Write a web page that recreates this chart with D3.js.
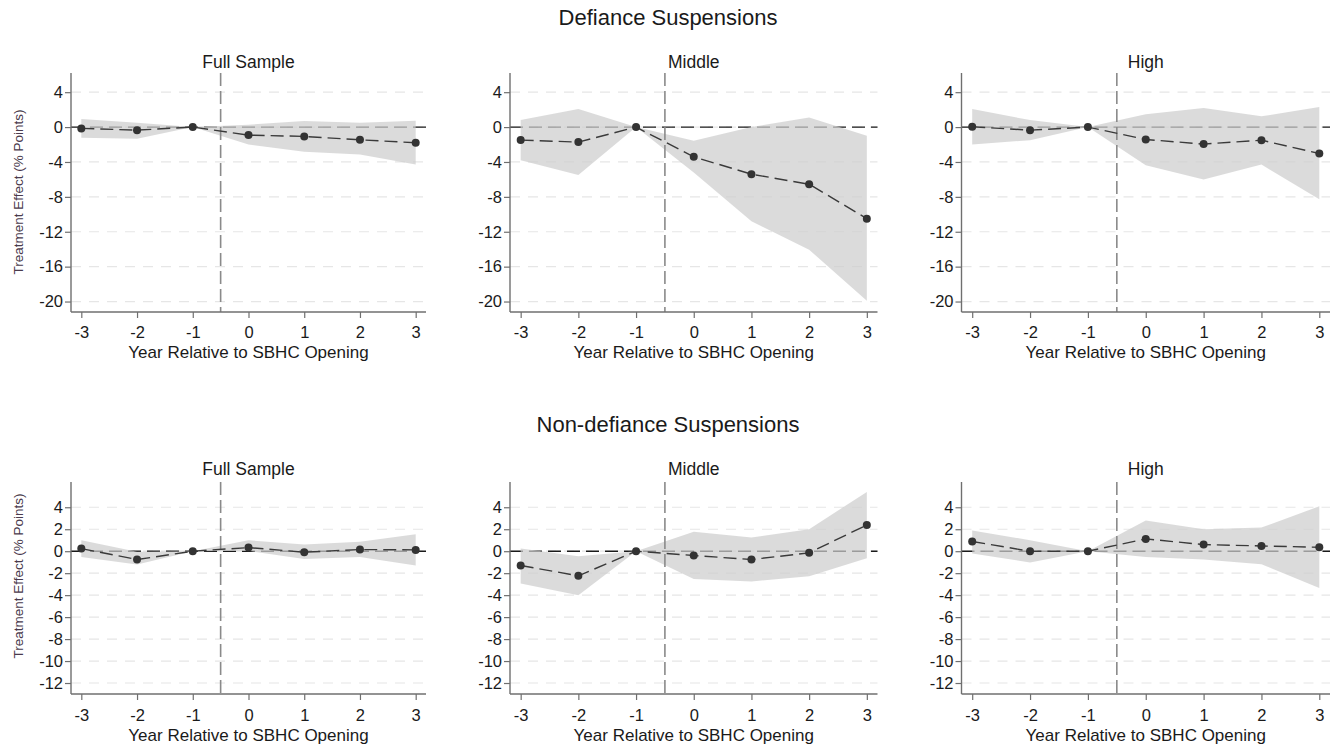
<!DOCTYPE html>
<html>
<head>
<meta charset="utf-8">
<script src="https://cdn.jsdelivr.net/npm/d3@7"></script>
<style>
  html, body { margin: 0; padding: 0; background: #fff; }
  svg { display: block; font-family: "Liberation Sans", Arial, sans-serif; }
</style>
</head>
<body>
<svg id="chart" width="1343" height="746"></svg>
<script>
// ---------------- DATA ----------------
const years = [-3, -2, -1, 0, 1, 2, 3];
const xTicks = [-3, -2, -1, 0, 1, 2, 3];
const panelTitles = ["Full Sample", "Middle", "High"];
const rowTitles = ["Defiance Suspensions", "Non-defiance Suspensions"];
const yAxisTitle = "Treatment Effect (% Points)";
const xAxisTitle = "Year Relative to SBHC Opening";
const yTicksTop = [4, 0, -4, -8, -12, -16, -20];
const yTicksBottom = [4, 2, 0, -2, -4, -6, -8, -10, -12];
const treatmentStart = -0.5;

// Defiance suspensions
const defFullEst = [-0.15, -0.35, 0, -0.92, -1.07, -1.46, -1.8];
const defFullLo  = [-1.23, -1.34, 0, -2.0, -2.84, -3.14, -4.3];
const defFullHi  = [0.92, 0.5, 0, 0.27, 0.69, 0.5, 0.73];

const defMidEst = [-1.49, -1.72, 0, -3.41, -5.4, -6.55, -10.5];
const defMidLo  = [-3.8, -5.5, 0, -5.2, -10.8, -14.06, -19.9];
const defMidHi  = [0.8, 2.07, 0, -1.57, 0.0, 1.1, -1.0];

const defHighEst = [0.04, -0.35, 0, -1.42, -1.95, -1.5, -3.03];
const defHighLo  = [-2.0, -1.5, 0, -4.37, -6.0, -4.3, -8.28];
const defHighHi  = [2.07, 0.8, 0, 1.46, 2.18, 1.23, 2.3];

// Non-defiance suspensions
const nonFullEst = [0.24, -0.76, 0, 0.33, -0.09, 0.15, 0.12];
const nonFullLo  = [-0.52, -1.21, 0, 0.03, -0.7, -0.52, -1.3];
const nonFullHi  = [1.0, -0.05, 0, 1.0, 0.6, 0.85, 1.55];

const nonMidEst = [-1.3, -2.24, 0, -0.39, -0.76, -0.15, 2.39];
const nonMidLo  = [-2.94, -4.0, 0, -2.52, -2.76, -2.27, -0.64];
const nonMidHi  = [0.24, -0.45, 0, 1.76, 1.24, 2.0, 5.4];

const nonHighEst = [0.88, 0.0, 0, 1.12, 0.6, 0.48, 0.36];
const nonHighLo  = [-0.2, -1.03, 0, -0.52, -0.76, -1.18, -3.36];
const nonHighHi  = [1.88, 1.0, 0, 2.79, 2.0, 2.15, 4.09];

// ---------------- LAYOUT ----------------
const svg = d3.select("#chart");
const colX = [[71, 426], [510, 877.5], [961.5, 1330]];
const rows = [
  { top: 73, bottom: 312, domain: [-21.2, 6.2], ticks: yTicksTop, title: rowTitles[0], titleY: 25, subY: 68, tickY: 338, axisTitleY: 358, yTitleCY: 192,
    panels: [[defFullEst, defFullLo, defFullHi], [defMidEst, defMidLo, defMidHi], [defHighEst, defHighLo, defHighHi]] },
  { top: 482, bottom: 694, domain: [-13.0, 6.3], ticks: yTicksBottom, title: rowTitles[1], titleY: 432, subY: 475, tickY: 721, axisTitleY: 741, yTitleCY: 576,
    panels: [[nonFullEst, nonFullLo, nonFullHi], [nonMidEst, nonMidLo, nonMidHi], [nonHighEst, nonHighLo, nonHighHi]] }
];

const textColor = "#1a1a1a";
const axisColor = "#6f6f6f";
const fmt = d => String(d);  // plain hyphen-minus like the original

rows.forEach((row, ri) => {
  svg.append("text")
    .attr("x", 668).attr("y", row.titleY)
    .attr("text-anchor", "middle")
    .attr("font-size", 22)
    .attr("fill", textColor)
    .text(row.title);

  row.panels.forEach((series, ci) => {
    const [est, lo, hi] = series;
    const x = d3.scaleLinear().domain([-3.185, 3.185]).range(colX[ci]);
    const y = d3.scaleLinear().domain(row.domain).range([row.bottom, row.top]);
    const g = svg.append("g");

    // gridlines
    g.selectAll(".grid").data(row.ticks).join("line")
      .attr("x1", colX[ci][0]).attr("x2", colX[ci][1])
      .attr("y1", d => y(d)).attr("y2", d => y(d))
      .attr("stroke", "#e6e6e6").attr("stroke-width", 1.2)
      .attr("stroke-dasharray", "10,8");

    // zero line
    g.append("line")
      .attr("x1", colX[ci][0]).attr("x2", colX[ci][1])
      .attr("y1", y(0)).attr("y2", y(0))
      .attr("stroke", "#1a1a1a").attr("stroke-width", 1.4)
      .attr("stroke-dasharray", "13,6");

    // CI band
    const area = d3.area()
      .x((d, i) => x(years[i]))
      .y0((d, i) => y(lo[i]))
      .y1((d, i) => y(hi[i]));
    g.append("path")
      .datum(years)
      .attr("d", area)
      .attr("fill", "rgb(205,205,205)")
      .attr("fill-opacity", 0.72);

    // vertical treatment line
    g.append("line")
      .attr("x1", x(treatmentStart)).attr("x2", x(treatmentStart))
      .attr("y1", row.top).attr("y2", row.bottom)
      .attr("stroke", "#8a8a8a").attr("stroke-width", 1.6)
      .attr("stroke-dasharray", "13,5");

    // estimate line
    const line = d3.line()
      .x((d, i) => x(years[i]))
      .y((d, i) => y(est[i]));
    g.append("path")
      .datum(years)
      .attr("d", line)
      .attr("fill", "none")
      .attr("stroke", "#3a3a3a").attr("stroke-width", 1.4)
      .attr("stroke-dasharray", "13,6");

    g.selectAll(".pt").data(years).join("circle")
      .attr("cx", d => x(d))
      .attr("cy", (d, i) => y(est[i]))
      .attr("r", 4)
      .attr("fill", "#333");

    // axes
    const yAxis = d3.axisLeft(y).tickValues(row.ticks).tickSize(6).tickPadding(2).tickFormat(fmt);
    const ya = svg.append("g").attr("transform", `translate(${colX[ci][0]},0)`).call(yAxis);
    ya.select(".domain").attr("stroke", axisColor).attr("stroke-width", 1.4)
      .attr("d", `M0,${row.top}V${row.bottom}`);
    ya.selectAll(".tick line").attr("stroke", axisColor).attr("stroke-width", 1.2);
    ya.selectAll(".tick text").attr("font-size", 16.5).attr("fill", textColor)
      .attr("font-family", "'Liberation Sans', Arial, sans-serif");

    const xAxis = d3.axisBottom(x).tickValues(xTicks).tickSize(6).tickPadding(2).tickFormat(fmt);
    const xa = svg.append("g").attr("transform", `translate(0,${row.bottom})`).call(xAxis);
    xa.select(".domain").attr("stroke", axisColor).attr("stroke-width", 1.4)
      .attr("d", `M${colX[ci][0]},0H${colX[ci][1]}`);
    xa.selectAll(".tick line").attr("stroke", axisColor).attr("stroke-width", 1.2);
    xa.selectAll(".tick text").remove();
    xa.selectAll(".tick").append("text")
      .attr("y", row.tickY - row.bottom)
      .attr("text-anchor", "middle")
      .attr("font-size", 16.5).attr("fill", textColor)
      .attr("font-family", "'Liberation Sans', Arial, sans-serif")
      .text(fmt);

    const cx = (colX[ci][0] + colX[ci][1]) / 2;
    svg.append("text")
      .attr("x", cx).attr("y", row.subY)
      .attr("text-anchor", "middle")
      .attr("font-size", 17.5).attr("fill", textColor)
      .text(panelTitles[ci]);

    svg.append("text")
      .attr("x", cx).attr("y", row.axisTitleY)
      .attr("text-anchor", "middle")
      .attr("font-size", 17).attr("fill", textColor)
      .text(xAxisTitle);

    if (ci === 0) {
      svg.append("text")
        .attr("transform", `translate(23,${row.yTitleCY}) rotate(-90)`)
        .attr("text-anchor", "middle")
        .attr("font-size", 13.5).attr("fill", "#4a3a4c")
        .text(yAxisTitle);
    }
  });
});
</script>
</body>
</html>
